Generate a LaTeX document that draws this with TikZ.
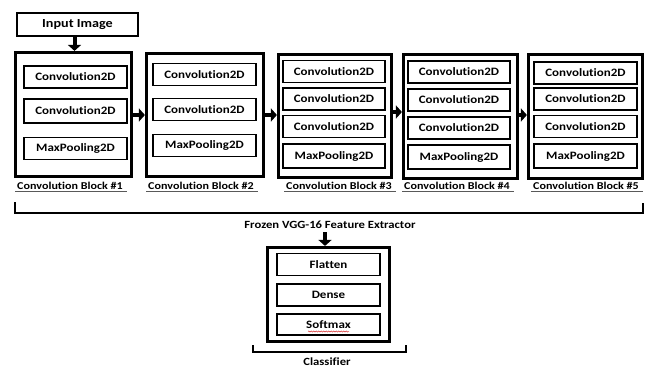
\documentclass[tikz,border=0pt]{standalone}
\usepackage{fontspec}
\setmainfont{Carlito}[FakeStretch=1.15, RawFeature=-liga]
\usetikzlibrary{arrows.meta,decorations.pathmorphing}

\tikzset{
  layer/.style={draw, line width=1.3pt, minimum width=#1, minimum height=22pt,
    inner sep=0pt, font=\bfseries\fontsize{11.3}{13}\selectfont},
  layer/.default=103pt,
  blockframe/.style={draw, line width=2.2pt, inner sep=0pt},
  innerrule/.style={line width=0.7pt},
  blocklabel/.style={font=\bfseries\fontsize{10.5}{12}\selectfont, inner sep=1pt},
  blockarrow/.style={line width=4pt, -{Triangle[length=6pt,width=13pt]}},
  underbar/.style={line width=0.7pt, gray!70!black},
  brace/.style={line width=1.8pt, line join=miter}
}

\begin{document}
\begin{tikzpicture}[x=1pt,y=1pt]
\useasboundingbox (0,0) rectangle (650,-369);

% input
\node[draw, line width=1.4pt, minimum width=121pt, minimum height=23pt, inner sep=0pt,
  font=\bfseries\fontsize{12.3}{14}\selectfont] (input) at (77.5,-24.5) {Input Image};

% convolution blocks: frames
\node[blockframe, minimum width=117pt, minimum height=125pt] (b1) at (73.5,-114.5) {};
\node[blockframe, minimum width=118pt, minimum height=124pt] (b2) at (205,-115) {};
\node[blockframe, minimum width=114pt, minimum height=124pt] (b3) at (335,-116) {};
\node[blockframe, minimum width=115pt, minimum height=125pt] (b4) at (460.5,-116.5) {};
\node[blockframe, minimum width=115pt, minimum height=125pt] (b5) at (585.5,-116.5) {};

% block 1 layers
\node[layer] (b1c1) at (75.5,-77) {Convolution2D};
\node[layer, minimum height=24pt] (b1c2) at (75.5,-111) {Convolution2D};
\node[layer] (b1p) at (75.5,-148.5) {MaxPooling2D};
% block 2 layers
\node[layer] (b2c1) at (204.5,-74.5) {Convolution2D};
\node[layer] (b2c2) at (204.5,-109.5) {Convolution2D};
\node[layer] (b2p) at (204.5,-145.5) {MaxPooling2D};
% block 3 layers
\node[layer=102pt] (b3c1) at (334,-71.5) {Convolution2D};
\node[layer=102pt] (b3c2) at (334,-99) {Convolution2D};
\node[layer=102pt] (b3c3) at (334,-126.5) {Convolution2D};
\node[layer=102pt, minimum height=24pt] (b3p) at (334,-156) {MaxPooling2D};
% block 4 layers
\node[layer=102pt] (b4c1) at (459,-72) {Convolution2D};
\node[layer=102pt] (b4c2) at (459,-100) {Convolution2D};
\node[layer=102pt] (b4c3) at (459,-128) {Convolution2D};
\node[layer=102pt, minimum height=24pt] (b4p) at (459,-157) {MaxPooling2D};
% block 5 layers
\node[layer] (b5c1) at (585.5,-73) {Convolution2D};
\node[layer] (b5c2) at (585.5,-99) {Convolution2D};
\node[layer] (b5c3) at (585.5,-126.5) {Convolution2D};
\node[layer, minimum height=24pt] (b5p) at (585.5,-156) {MaxPooling2D};

% block labels with underlines
\node[blocklabel] (l1) at (70,-186) {Convolution Block \#1};
\node[blocklabel] (l2) at (201,-186) {Convolution Block \#2};
\node[blocklabel] (l3) at (339,-186) {Convolution Block \#3};
\node[blocklabel] (l4) at (457,-186) {Convolution Block \#4};
\node[blocklabel] (l5) at (586,-186) {Convolution Block \#5};
\foreach \l in {l1,l2,l3,l4,l5}
  \draw[underbar] ([xshift=-1pt]\l.south west) -- ([xshift=3pt]\l.south east);

% flow between stages
\coordinate (a1) at (74.5,-36);
\draw[blockarrow] (input.south -| a1) -- (b1.north -| a1);
\coordinate (h12) at (0,-115);
\draw[blockarrow] (b1.east |- h12) -- (b2.west |- h12);
\draw[blockarrow] (b2.east |- h12) -- (b3.west |- h12);
\coordinate (h34) at (0,-112);
\draw[blockarrow] (b3.east |- h34) -- (b4.west |- h34);
\coordinate (h45) at (0,-115);
\draw[blockarrow] (b4.east |- h45) -- (b5.west |- h45);

% feature extractor bracket
\coordinate (fl) at (15,-202);
\coordinate (fr) at (643,-203);
\draw[brace] (fl) -- (15,-213) -- (643,-213) -- (fr);
\node[font=\bfseries\fontsize{11}{13}\selectfont] (fe) at (330,-225) {Frozen VGG-16 Feature Extractor};

% classifier
\node[blockframe, minimum width=123pt, minimum height=95pt] (cls) at (328.5,-294.5) {};
\coordinate (a2) at (325,0);
\draw[blockarrow] (fe.south -| a2) -- (cls.north -| a2);
\node[layer] (flat) at (328.5,-264.5) {Flatten};
\node[layer] (dense) at (328.5,-295) {Dense};
\node[layer, minimum height=21pt] (soft) at (328.5,-324.5) {Softmax};
\draw[red!80!black, line width=0.4pt, decorate,
  decoration={snake, amplitude=0.6pt, segment length=2.5pt}]
  (308,-331.5) -- (349,-331.5);

% thin inner rule of every framed block
\foreach \f in {b1,b2,b3,b4,b5,cls}
  \draw[innerrule] ([shift={(2.6pt,2.6pt)}]\f.south west) rectangle ([shift={(-2.6pt,-2.6pt)}]\f.north east);

% classifier bracket
\coordinate (cl) at (253,-345);
\coordinate (cr) at (406,-345);
\draw[brace] (cl) -- (253,-352) -- (406,-352) -- (cr);
\node[font=\bfseries\fontsize{11}{12}\selectfont] (clab) at (327,-362) {Classifier};
\end{tikzpicture}
\end{document}
